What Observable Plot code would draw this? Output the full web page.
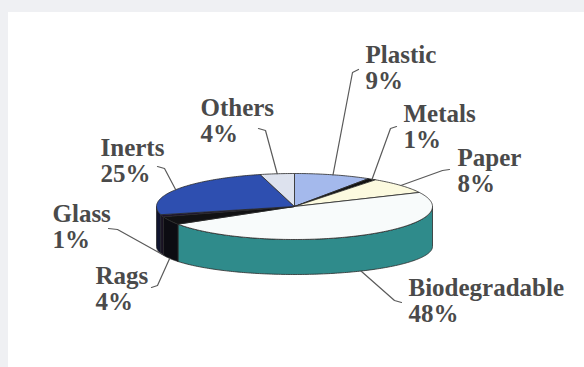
<!DOCTYPE html>
<html><head><meta charset="utf-8">
<script src="https://cdn.jsdelivr.net/npm/d3@7"></script>
<script src="https://cdn.jsdelivr.net/npm/@observablehq/plot@0.6"></script>
<style>
body{margin:0;background:#eff0f3;overflow:hidden;}
#panel{position:absolute;left:8px;top:12px;right:0;bottom:0;background:#fff;}
#chart{position:absolute;left:0;top:0;}
</style></head><body><div id="panel"></div><div id="chart"></div>
<script>
// ---- data ----
const categories = ["Plastic","Metals","Paper","Biodegradable","Rags","Glass","Inerts","Others"];
const shares = [9, 1, 8, 48, 4, 1, 25, 4];

// ---- styles ----
const topColors  = ["#a4b9ec","#121212","#fcfadf","#f8fbfb","#121214","#1d1232","#2e4fb0","#dde2ee"];
const sideColors = ["#7d93c8","#0a0a0a","#d8d4b0","#2f8b8b","#0c0c12","#140c22","#10142e","#a9b0c0"];

// ---- layout (pixel units of the x/y scales) ----
const W = 584, H = 367;
const geom = {cx: 294, cy: 206, rx: 138, ry: 33, cyB: 246, ryB: 28};
const fontSize = 25, lineHeight = 1.05;
const labelLayout = {
  Plastic:       {tx: 365, base: 62,  free: [358, 69],  elbow: [352, 72],  edge: "top"},
  Metals:        {tx: 403, base: 121, free: [396, 126], elbow: [390, 128], edge: "top"},
  Paper:         {tx: 457, base: 165, free: [449, 169], elbow: [442, 170], edge: "top"},
  Biodegradable: {tx: 408, base: 295, free: [401, 302], elbow: [394, 300], edge: "bottom"},
  Rags:          {tx: 95,  base: 283, free: [151, 287], elbow: [157, 285], edge: "bottom"},
  Glass:         {tx: 52,  base: 221, free: [108, 228], elbow: [117, 229], edge: "bottom"},
  Inerts:        {tx: 100, base: 155, free: [157, 166], elbow: [164, 168], edge: "top"},
  Others:        {tx: 200, base: 115, free: [258, 128], elbow: [265, 130], edge: "top"}
};

const rad = d => d * Math.PI / 180;
const topPt = a => [geom.cx + geom.rx * Math.sin(rad(a)), geom.cy - geom.ry * Math.cos(rad(a))];
const botPt = a => [geom.cx + geom.rx * Math.sin(rad(a)), geom.cyB - geom.ryB * Math.cos(rad(a))];
const arc = (a0, a1, f) => {
  const n = Math.max(2, Math.ceil(Math.abs(a1 - a0)));
  return d3.range(n + 1).map(i => f(a0 + (a1 - a0) * i / n));
};

const total = d3.sum(shares);
let acc = 0;
const slices = categories.map((c, i) => {
  const a0 = acc / total * 360; acc += shares[i];
  const a1 = acc / total * 360;
  return {cat: c, value: shares[i], a0, a1, mid: (a0 + a1) / 2};
});

// top faces
const topPts = [];
for (const s of slices) {
  const pts = [[geom.cx, geom.cy], ...arc(s.a0, s.a1, topPt), [geom.cx, geom.cy]];
  for (const [x, y] of pts) topPts.push({key: s.cat, x, y});
}
// visible side faces (front half: 90..270 deg)
const sidePts = [];
for (const s of slices) {
  const a = Math.max(s.a0, 90), b = Math.min(s.a1, 270);
  if (a >= b) continue;
  const pts = [...arc(a, b, topPt), ...arc(b, a, botPt)];
  pts.push(pts[0]);
  for (const [x, y] of pts) sidePts.push({key: s.cat + " side", x, y});
}
// leaders
const leaderPts = [];
for (const s of slices) {
  const L = labelLayout[s.cat];
  const anchor = L.edge === "top" ? topPt(s.mid) : botPt(s.mid);
  for (const [x, y] of [L.free, L.elbow, anchor]) leaderPts.push({cat: s.cat, x, y});
}
const labels = slices.map(s => ({
  x: labelLayout[s.cat].tx,
  y: labelLayout[s.cat].base - 0.71 * lineHeight * fontSize,
  text: `${s.cat}\n${s.value}%`
}));

const plot = Plot.plot({
  width: W, height: H,
  margin: 0,
  style: {background: "transparent", overflow: "visible"},
  x: {domain: [0, W], range: [0, W], axis: null},
  y: {domain: [0, H], range: [0, H], axis: null},
  color: {
    domain: categories.concat(categories.map(c => c + " side")),
    range: topColors.concat(sideColors)
  },
  marks: [
    Plot.line(sidePts, {x: "x", y: "y", z: "key", fill: "key", stroke: "#2a2a2a", strokeWidth: 0.8, strokeLinejoin: "round"}),
    Plot.line(topPts, {x: "x", y: "y", z: "key", fill: "key", stroke: "#2a2a2a", strokeWidth: 0.8, strokeLinejoin: "round"}),
    Plot.line(leaderPts, {x: "x", y: "y", z: "cat", stroke: "#5a5a5a", strokeWidth: 1.2}),
    Plot.text(labels, {x: "x", y: "y", text: "text", textAnchor: "start", lineAnchor: "top",
      lineHeight, fontSize, fontFamily: "'Liberation Serif', 'Times New Roman', serif", fontWeight: "bold", fill: "#4a4a4a"})
  ]
});
document.getElementById("chart").appendChild(plot);
</script>
</body></html>
